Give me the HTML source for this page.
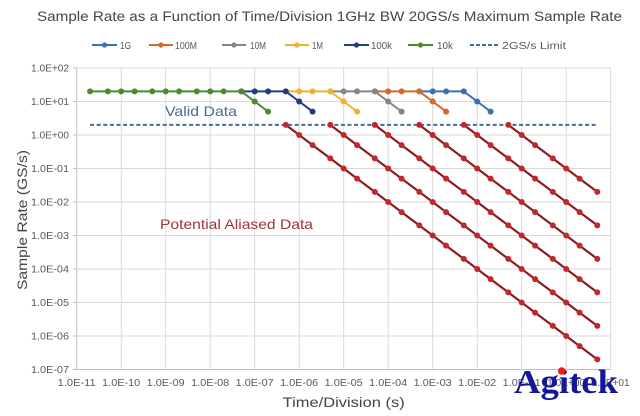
<!DOCTYPE html>
<html><head><meta charset="utf-8"><style>
html,body{margin:0;padding:0;background:#fff;}
svg{display:block;}
text{font-family:"Liberation Sans",sans-serif;}
</style></head><body>
<svg width="640" height="416" viewBox="0 0 640 416" xmlns="http://www.w3.org/2000/svg">
<defs>
<marker id="mB" markerWidth="8" markerHeight="8" refX="4" refY="4" markerUnits="userSpaceOnUse"><circle cx="4" cy="4" r="3" fill="#3c70b0"/></marker>
<marker id="mO" markerWidth="8" markerHeight="8" refX="4" refY="4" markerUnits="userSpaceOnUse"><circle cx="4" cy="4" r="3" fill="#d4692a"/></marker>
<marker id="mG" markerWidth="8" markerHeight="8" refX="4" refY="4" markerUnits="userSpaceOnUse"><circle cx="4" cy="4" r="3" fill="#858585"/></marker>
<marker id="mY" markerWidth="8" markerHeight="8" refX="4" refY="4" markerUnits="userSpaceOnUse"><circle cx="4" cy="4" r="3" fill="#efb22c"/></marker>
<marker id="mN" markerWidth="8" markerHeight="8" refX="4" refY="4" markerUnits="userSpaceOnUse"><circle cx="4" cy="4" r="3" fill="#203d85"/></marker>
<marker id="mGr" markerWidth="8" markerHeight="8" refX="4" refY="4" markerUnits="userSpaceOnUse"><circle cx="4" cy="4" r="3" fill="#4b8b2e"/></marker>
<marker id="mR" markerWidth="8" markerHeight="8" refX="4" refY="4" markerUnits="userSpaceOnUse"><circle cx="4" cy="4" r="3" fill="#c0282d"/></marker>
</defs>

<!-- Title -->
<text x="37" y="21" font-size="14" fill="#454545" textLength="585" lengthAdjust="spacingAndGlyphs">Sample Rate as a Function of Time/Division 1GHz BW 20GS/s Maximum Sample Rate</text>

<!-- Legend -->
<g font-size="10.5" fill="#595959">
<line x1="92" y1="45" x2="117" y2="45" stroke="#3c70b0" stroke-width="2"/><circle cx="104.5" cy="45" r="2.6" fill="#3c70b0"/>
<text x="120" y="49" textLength="11" lengthAdjust="spacingAndGlyphs">1G</text>
<line x1="149" y1="45" x2="173" y2="45" stroke="#d4692a" stroke-width="2"/><circle cx="161" cy="45" r="2.6" fill="#d4692a"/>
<text x="175" y="49" textLength="22" lengthAdjust="spacingAndGlyphs">100M</text>
<line x1="222" y1="45" x2="246" y2="45" stroke="#858585" stroke-width="2"/><circle cx="234" cy="45" r="2.6" fill="#858585"/>
<text x="250" y="49" textLength="16" lengthAdjust="spacingAndGlyphs">10M</text>
<line x1="285" y1="45" x2="309" y2="45" stroke="#efb22c" stroke-width="2"/><circle cx="297" cy="45" r="2.6" fill="#efb22c"/>
<text x="312" y="49" textLength="11" lengthAdjust="spacingAndGlyphs">1M</text>
<line x1="344" y1="45" x2="369" y2="45" stroke="#203d85" stroke-width="2"/><circle cx="356.5" cy="45" r="2.6" fill="#203d85"/>
<text x="371" y="49" textLength="21" lengthAdjust="spacingAndGlyphs">100k</text>
<line x1="408" y1="45" x2="433" y2="45" stroke="#4b8b2e" stroke-width="2"/><circle cx="420.5" cy="45" r="2.6" fill="#4b8b2e"/>
<text x="437" y="49" textLength="16" lengthAdjust="spacingAndGlyphs">10k</text>
<line x1="470" y1="45" x2="499" y2="45" stroke="#44699b" stroke-width="2" stroke-dasharray="4,2"/>
<text x="502" y="49" textLength="64" lengthAdjust="spacingAndGlyphs">2GS/s Limit</text>
</g>

<!-- Gridlines -->
<g stroke="#d9d9d9" stroke-width="1">
<line x1="121.2" y1="68" x2="121.2" y2="369.5"/>
<line x1="165.7" y1="68" x2="165.7" y2="369.5"/>
<line x1="210.2" y1="68" x2="210.2" y2="369.5"/>
<line x1="254.7" y1="68" x2="254.7" y2="369.5"/>
<line x1="299.2" y1="68" x2="299.2" y2="369.5"/>
<line x1="343.7" y1="68" x2="343.7" y2="369.5"/>
<line x1="388.2" y1="68" x2="388.2" y2="369.5"/>
<line x1="432.7" y1="68" x2="432.7" y2="369.5"/>
<line x1="477.2" y1="68" x2="477.2" y2="369.5"/>
<line x1="521.7" y1="68" x2="521.7" y2="369.5"/>
<line x1="566.2" y1="68" x2="566.2" y2="369.5"/>
<line x1="610.7" y1="68" x2="610.7" y2="369.5"/>
<line x1="76.7" y1="68" x2="610.7" y2="68"/>
<line x1="76.7" y1="101.5" x2="610.7" y2="101.5"/>
<line x1="76.7" y1="135" x2="610.7" y2="135"/>
<line x1="76.7" y1="168.5" x2="610.7" y2="168.5"/>
<line x1="76.7" y1="202" x2="610.7" y2="202"/>
<line x1="76.7" y1="235.5" x2="610.7" y2="235.5"/>
<line x1="76.7" y1="269" x2="610.7" y2="269"/>
<line x1="76.7" y1="302.5" x2="610.7" y2="302.5"/>
<line x1="76.7" y1="336" x2="610.7" y2="336"/>
</g>
<g stroke="#bfbfbf" stroke-width="1">
<line x1="76.7" y1="68" x2="76.7" y2="369.5"/>
<line x1="76.7" y1="369.5" x2="610.7" y2="369.5"/>
<line x1="73" y1="68" x2="76.7" y2="68"/>
<line x1="73" y1="101.5" x2="76.7" y2="101.5"/>
<line x1="73" y1="135" x2="76.7" y2="135"/>
<line x1="73" y1="168.5" x2="76.7" y2="168.5"/>
<line x1="73" y1="202" x2="76.7" y2="202"/>
<line x1="73" y1="235.5" x2="76.7" y2="235.5"/>
<line x1="73" y1="269" x2="76.7" y2="269"/>
<line x1="73" y1="302.5" x2="76.7" y2="302.5"/>
<line x1="73" y1="336" x2="76.7" y2="336"/>
<line x1="73" y1="369.5" x2="76.7" y2="369.5"/>
</g>

<!-- Y tick labels -->
<g font-size="10" fill="#595959" text-anchor="end">
<text x="69" y="71.5" textLength="38" lengthAdjust="spacingAndGlyphs">1.0E+02</text>
<text x="69" y="105" textLength="38" lengthAdjust="spacingAndGlyphs">1.0E+01</text>
<text x="69" y="138.5" textLength="38" lengthAdjust="spacingAndGlyphs">1.0E+00</text>
<text x="69" y="172" textLength="38" lengthAdjust="spacingAndGlyphs">1.0E-01</text>
<text x="69" y="205.5" textLength="38" lengthAdjust="spacingAndGlyphs">1.0E-02</text>
<text x="69" y="239" textLength="38" lengthAdjust="spacingAndGlyphs">1.0E-03</text>
<text x="69" y="272.5" textLength="38" lengthAdjust="spacingAndGlyphs">1.0E-04</text>
<text x="69" y="306" textLength="38" lengthAdjust="spacingAndGlyphs">1.0E-05</text>
<text x="69" y="339.5" textLength="38" lengthAdjust="spacingAndGlyphs">1.0E-06</text>
<text x="69" y="373" textLength="38" lengthAdjust="spacingAndGlyphs">1.0E-07</text>
</g>

<!-- X tick labels -->
<g font-size="10" fill="#595959" text-anchor="middle">
<text x="76.7" y="386" textLength="38" lengthAdjust="spacingAndGlyphs">1.0E-11</text>
<text x="121.2" y="386" textLength="38" lengthAdjust="spacingAndGlyphs">1.0E-10</text>
<text x="165.7" y="386" textLength="38" lengthAdjust="spacingAndGlyphs">1.0E-09</text>
<text x="210.2" y="386" textLength="38" lengthAdjust="spacingAndGlyphs">1.0E-08</text>
<text x="254.7" y="386" textLength="38" lengthAdjust="spacingAndGlyphs">1.0E-07</text>
<text x="299.2" y="386" textLength="38" lengthAdjust="spacingAndGlyphs">1.0E-06</text>
<text x="343.7" y="386" textLength="38" lengthAdjust="spacingAndGlyphs">1.0E-05</text>
<text x="388.2" y="386" textLength="38" lengthAdjust="spacingAndGlyphs">1.0E-04</text>
<text x="432.7" y="386" textLength="38" lengthAdjust="spacingAndGlyphs">1.0E-03</text>
<text x="477.2" y="386" textLength="38" lengthAdjust="spacingAndGlyphs">1.0E-02</text>
<text x="521.7" y="386" textLength="38" lengthAdjust="spacingAndGlyphs">1.0E-01</text>
<text x="566.2" y="386" textLength="38" lengthAdjust="spacingAndGlyphs">1.0E+00</text>
<text x="610.7" y="386" textLength="38" lengthAdjust="spacingAndGlyphs">1.0E+01</text>
</g>

<!-- Axis titles -->
<text x="343.7" y="407" font-size="14" fill="#454545" text-anchor="middle" textLength="122" lengthAdjust="spacingAndGlyphs">Time/Division (s)</text>
<text transform="translate(27,220) rotate(-90)" font-size="13.5" fill="#454545" text-anchor="middle" textLength="140" lengthAdjust="spacingAndGlyphs">Sample Rate (GS/s)</text>

<!-- Annotations -->
<text x="165" y="116" font-size="14" fill="#4a6a9a" textLength="72" lengthAdjust="spacingAndGlyphs">Valid Data</text>
<text x="160" y="229" font-size="14" fill="#a3333c" textLength="153" lengthAdjust="spacingAndGlyphs">Potential Aliased Data</text>

<!-- 2GS/s limit -->
<line x1="90.1" y1="124.9" x2="597.3" y2="124.9" stroke="#44699b" stroke-width="2" stroke-dasharray="4,2.6"/>

<!-- Colored series -->
<g fill="none" stroke-width="2" stroke-linejoin="round">
<polyline stroke="#3c70b0" marker-start="url(#mB)" marker-mid="url(#mB)" marker-end="url(#mB)" points="419.3,91.4 432.7,91.4 446.1,91.4 463.8,91.4 477.2,101.5 490.6,111.6"/>
<polyline stroke="#d4692a" marker-start="url(#mO)" marker-mid="url(#mO)" marker-end="url(#mO)" points="374.8,91.4 388.2,91.4 401.6,91.4 419.3,91.4 432.7,101.5 446.1,111.6"/>
<polyline stroke="#858585" marker-start="url(#mG)" marker-mid="url(#mG)" marker-end="url(#mG)" points="330.3,91.4 343.7,91.4 357.1,91.4 374.8,91.4 388.2,101.5 401.6,111.6"/>
<polyline stroke="#efb22c" marker-start="url(#mY)" marker-mid="url(#mY)" marker-end="url(#mY)" points="285.8,91.4 299.2,91.4 312.6,91.4 330.3,91.4 343.7,101.5 357.1,111.6"/>
<polyline stroke="#203d85" marker-start="url(#mN)" marker-mid="url(#mN)" marker-end="url(#mN)" points="241.3,91.4 254.7,91.4 268.1,91.4 285.8,91.4 299.2,101.5 312.6,111.6"/>
<polyline stroke="#4b8b2e" marker-start="url(#mGr)" marker-mid="url(#mGr)" marker-end="url(#mGr)" points="90.1,91.4 107.8,91.4 121.2,91.4 134.6,91.4 152.3,91.4 165.7,91.4 179.1,91.4 196.8,91.4 210.2,91.4 223.6,91.4 241.3,91.4 254.7,101.5 268.1,111.6"/>
</g>

<!-- Aliased (red) series -->
<g fill="none" stroke="#8c1c1f" stroke-width="2.2" stroke-linejoin="round">
<polyline marker-start="url(#mR)" marker-mid="url(#mR)" marker-end="url(#mR)" points="285.8,124.9 299.2,135 312.6,145.1 330.3,158.4 343.7,168.5 357.1,178.6 374.8,191.9 388.2,202 401.6,212.1 419.3,225.4 432.7,235.5 446.1,245.6 463.8,258.9 477.2,269 490.6,279.1 508.3,292.4 521.7,302.5 535.1,312.6 552.8,325.9 566.2,336 579.6,346.1 597.3,359.4"/>
<polyline marker-start="url(#mR)" marker-mid="url(#mR)" marker-end="url(#mR)" points="330.3,124.9 343.7,135 357.1,145.1 374.8,158.4 388.2,168.5 401.6,178.6 419.3,191.9 432.7,202 446.1,212.1 463.8,225.4 477.2,235.5 490.6,245.6 508.3,258.9 521.7,269 535.1,279.1 552.8,292.4 566.2,302.5 579.6,312.6 597.3,325.9"/>
<polyline marker-start="url(#mR)" marker-mid="url(#mR)" marker-end="url(#mR)" points="374.8,124.9 388.2,135 401.6,145.1 419.3,158.4 432.7,168.5 446.1,178.6 463.8,191.9 477.2,202 490.6,212.1 508.3,225.4 521.7,235.5 535.1,245.6 552.8,258.9 566.2,269 579.6,279.1 597.3,292.4"/>
<polyline marker-start="url(#mR)" marker-mid="url(#mR)" marker-end="url(#mR)" points="419.3,124.9 432.7,135 446.1,145.1 463.8,158.4 477.2,168.5 490.6,178.6 508.3,191.9 521.7,202 535.1,212.1 552.8,225.4 566.2,235.5 579.6,245.6 597.3,258.9"/>
<polyline marker-start="url(#mR)" marker-mid="url(#mR)" marker-end="url(#mR)" points="463.8,124.9 477.2,135 490.6,145.1 508.3,158.4 521.7,168.5 535.1,178.6 552.8,191.9 566.2,202 579.6,212.1 597.3,225.4"/>
<polyline marker-start="url(#mR)" marker-mid="url(#mR)" marker-end="url(#mR)" points="508.3,124.9 521.7,135 535.1,145.1 552.8,158.4 566.2,168.5 579.6,178.6 597.3,191.9"/>
</g>

<!-- Agitek logo -->
<text x="514" y="393" font-family="'Liberation Serif',serif" font-weight="bold" font-size="34" fill="#16169a" textLength="104" lengthAdjust="spacingAndGlyphs" style="font-family:'Liberation Serif',serif">Agitek</text>
<circle cx="561.7" cy="371" r="3.8" fill="#f01818"/>
</svg>
</body></html>
